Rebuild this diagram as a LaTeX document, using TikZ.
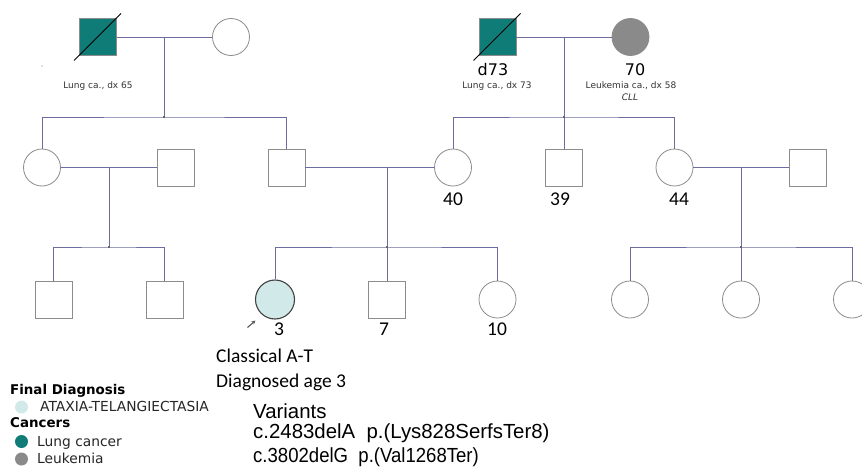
\documentclass[tikz,border=0pt]{standalone}
\usepackage{fontspec}
\usepackage{graphicx}
\usetikzlibrary{arrows.meta}
\newfontfamily\dvs{DejaVu Sans}
\newfontfamily\carl{Carlito}
\newfontfamily\arl{Liberation Sans}
\definecolor{teal1}{RGB}{15,124,119}
\definecolor{gray1}{RGB}{138,138,138}
\definecolor{probe}{RGB}{210,233,233}
\definecolor{lnk}{RGB}{108,108,158}
\definecolor{edge}{RGB}{140,140,140}
\tikzset{
  male/.style={draw=edge,line width=0.8pt,minimum size=37pt,inner sep=0pt,rectangle},
  female/.style={draw=edge,line width=0.8pt,minimum size=37pt,inner sep=0pt,circle},
  link/.style={draw=lnk,line width=0.9pt},
  dec/.style={draw=black,line width=1pt},
  junc/.style={fill=black!60,rectangle,inner sep=0pt,minimum size=2.4pt},
  small/.style={font=\dvs\fontsize{9}{11}\selectfont,text=black!80,inner sep=0pt},
  big/.style={font=\dvs\fontsize{16}{18}\selectfont,inner sep=0pt},
  age/.style={font=\carl\fontsize{19.5}{23}\selectfont,inner sep=0pt},
  leg/.style={font=\dvs\fontsize{13.8}{16}\selectfont,inner sep=0pt,anchor=base west,text=black!85},
  legb/.style={font=\dvs\bfseries\fontsize{13.4}{15}\selectfont,inner sep=0pt,anchor=base west},
  var/.style={font=\arl\fontsize{20.4}{22}\selectfont,inner sep=0pt,anchor=base west},
  legdot/.style={circle,inner sep=0pt,minimum size=13pt}
}
\begin{document}
\begin{tikzpicture}[x=1pt,y=-1pt]
\clip (0,0) rectangle (862,471);
\fill[white] (0,0) rectangle (862,471);
% Generation I
\node[male,fill=teal1] (gp1) at (98,37) {};
\node[female] (gm1) at (231,37) {};
\node[male,fill=teal1] (gp2) at (497.5,37) {};
\node[female,fill=gray1,draw=gray1] (gm2) at (630.5,37) {};
\draw[dec] ([shift={(-24,23.5)}]gp1.center) -- ([shift={(23,-23.5)}]gp1.center);
\draw[dec] ([shift={(-24,23.5)}]gp2.center) -- ([shift={(23,-23.5)}]gp2.center);
\fill[gray] (42,66) circle (0.7);
\node[small] (l1) at (98,86) {Lung ca., dx 65};
\node[big] (d73) at (493,70) {d73};
\node[small] (l2) at (497,86) {Lung ca., dx 73};
\node[big] (a70) at (635,70) {70};
\node[small] (l3) at (631,86) {Leukemia ca., dx 58};
\node[small] (l4) at (630,97.5) {\itshape CLL};
% Generation II
\node[female] (a1) at (42,167.5) {};
\node[male] (a2) at (175.5,167.5) {};
\node[male] (a3) at (286.5,167.5) {};
\node[female] (a4) at (453,167.5) {};
\node[male] (a5) at (564,167.5) {};
\node[female] (a6) at (674.5,167.5) {};
\node[male] (a7) at (807.5,167.5) {};
\node[age] (t40) at (453,199) {40};
\node[age] (t39) at (560,199) {39};
\node[age] (t44) at (679,199) {44};
% Generation III
\node[male] (b1) at (53.5,299.5) {};
\node[male] (b2) at (164.5,299.5) {};
\node[female,fill=probe,draw=black!75,line width=1.1pt,minimum size=39pt] (b3) at (275,299.5) {};
\node[male] (b4) at (387,299.5) {};
\node[female] (b5) at (497.5,299.5) {};
\node[female] (b6) at (630,299.5) {};
\node[female] (b7) at (741,299.5) {};
\node[female] (b8) at (852,299.5) {};
\node[age] (t3) at (279,329.5) {3};
\node[age] (t7) at (384,329.5) {7};
\node[age] (t10) at (497,329.5) {10};
\node[age,anchor=base west] (cl1) at (216,362) {Classical A-T};
\node[age,anchor=base west] (cl2) at (216,387) {Diagnosed age 3};
\coordinate (pa) at (247.5,327.5);
\coordinate (pb) at (255.5,320.5);
\draw[black!65,line width=1.1pt,-{Stealth[length=4pt,width=4pt]}] (pa) -- (pb);
% couple and sibship links
\coordinate (c1) at (164,37);
\coordinate (s1) at (164,117);
\coordinate (c2) at (564,37);
\coordinate (s2) at (564,117);
\coordinate (c3) at (109,167.5);
\coordinate (s3) at (109,247);
\coordinate (c4) at (387,167.5);
\coordinate (s4) at (387,247);
\coordinate (c5) at (741,167.5);
\coordinate (s5) at (741,247);
\draw[link] (gp1.east) -- (gm1.west);
\draw[link] (gp2.east) -- (gm2.west);
\draw[link] (c1) -- (s1);
\draw[link] (c2) -- (s2);
\draw[link] (a1.north) |- (s1) -| (a3.north);
\draw[link] (a4.north) |- (s2) -| (a6.north);
\draw[link] (s2) -- (a5.north);
\draw[link] (a1.east) -- (a2.west);
\draw[link] (a3.east) -- (a4.west);
\draw[link] (a6.east) -- (a7.west);
\draw[link] (c3) -- (s3);
\draw[link] (c4) -- (s4);
\draw[link] (c5) -- (s5);
\draw[link] (b1.north) |- (s3) -| (b2.north);
\draw[link] (b3.north) |- (s4) -| (b5.north);
\draw[link] (s4) -- (b4.north);
\draw[link] (b6.north) |- (s5) -| (b8.north);
\draw[link] (s5) -- (b7.north);
\foreach \j in {s1,s2,s3,s4,s5} \node[junc] at (\j) {};
% Legend
\node[legb] (lg1) at (10,394) {Final Diagnosis};
\node[legdot,fill=probe] (ld1) at (21.5,407) {};
\node[leg] (lt1) at (40,411.7) {ATAXIA-TELANGIECTASIA};
\node[legb] (lg2) at (10,427) {Cancers};
\node[legdot,fill=teal1] (ld2) at (21.5,441.5) {};
\node[leg] (lt2) at (37,446) {Lung cancer};
\node[legdot,fill=gray1] (ld3) at (21.5,459) {};
\node[leg] (lt3) at (37,463) {Leukemia};
% Variants
\node[var] (v0) at (253,418) {Variants};
\node[var] (v1) at (253,438.5) {c.2483delA\ \ p.(Lys828SerfsTer8)};
\node[var] (v2) at (253,462) {\scalebox{0.91}[1]{c.3802delG\ \ p.(Val1268Ter)}};
\end{tikzpicture}
\end{document}
